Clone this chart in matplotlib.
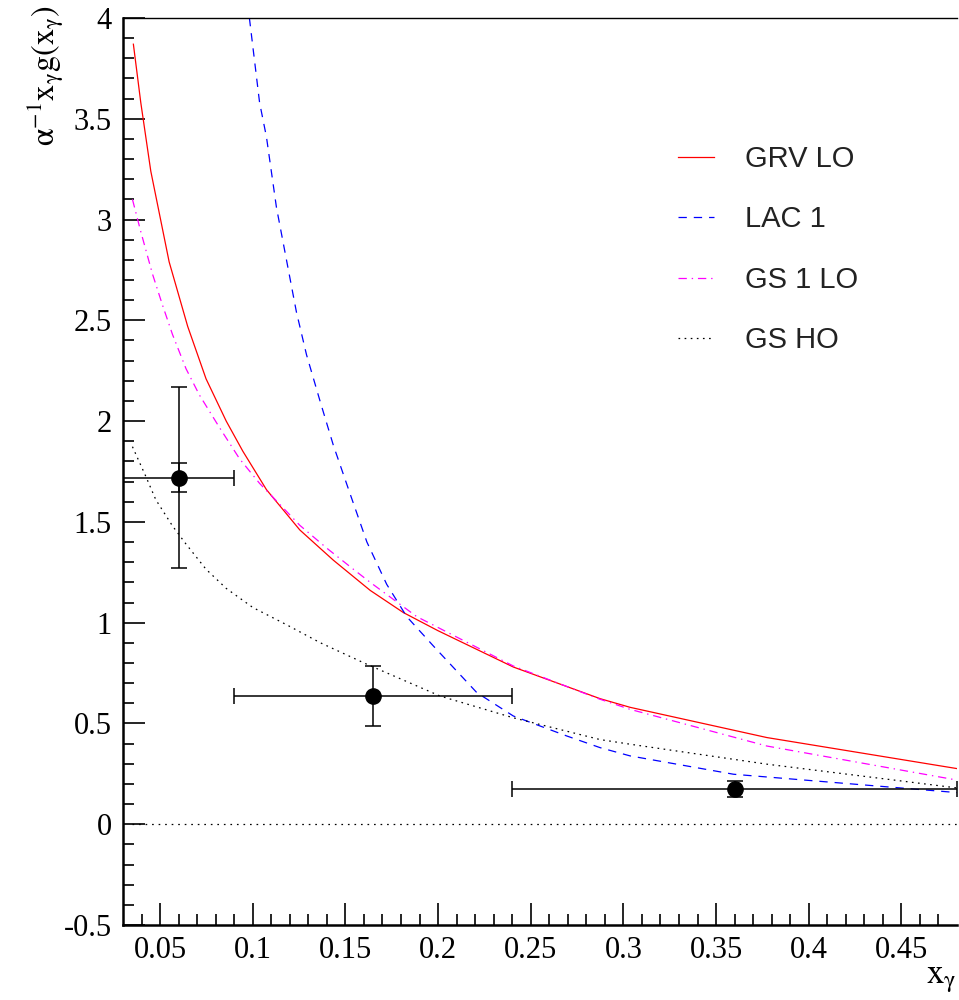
import matplotlib
matplotlib.use("Agg")
import matplotlib.pyplot as plt
import numpy as np

plt.rcParams['font.family'] = ['Liberation Serif', 'DejaVu Serif']
plt.rcParams['mathtext.fontset'] = 'stix'
plt.rcParams['lines.scale_dashes'] = False

# curves
grv_x = [0.0356, 0.0396, 0.045, 0.0549, 0.0649, 0.0748, 0.0857, 0.0947, 0.1074, 0.1254, 0.1435, 0.1634,
         0.1813, 0.2, 0.2406, 0.2874, 0.3036, 0.3774, 0.48]
grv_y = [3.87, 3.58, 3.24, 2.79, 2.47, 2.21, 2.00, 1.85, 1.66, 1.46, 1.31, 1.16,
         1.05, 0.96, 0.78, 0.623, 0.58, 0.43, 0.276]

lac_x = [0.0982, 0.1037, 0.1074, 0.1128, 0.1182, 0.1236, 0.129, 0.1363, 0.1435, 0.1525, 0.1616, 0.1723,
         0.1831, 0.1975, 0.2209, 0.2406, 0.2694, 0.2874, 0.3036, 0.3594, 0.48]
lac_y = [4.0, 3.58, 3.41, 3.06, 2.80, 2.54, 2.33, 2.10, 1.88, 1.64, 1.40, 1.19,
         1.03, 0.884, 0.653, 0.537, 0.438, 0.38, 0.339, 0.248, 0.157]

gs1_x = [0.0351, 0.0396, 0.0459, 0.0513, 0.0567, 0.064, 0.0712, 0.082, 0.0929, 0.1037, 0.1146, 0.1254,
         0.1399, 0.1543, 0.1634, 0.1885, 0.2406, 0.2874, 0.3036, 0.3774, 0.48]
gs1_y = [3.10, 2.94, 2.73, 2.576, 2.43, 2.26, 2.13, 1.969, 1.813, 1.691, 1.587, 1.483,
         1.37, 1.265, 1.20, 1.03, 0.785, 0.62, 0.57, 0.388, 0.219]

gsho_x = [0.0351, 0.0423, 0.0477, 0.0567, 0.064, 0.0748, 0.0857, 0.1001, 0.1182, 0.1363, 0.1615, 0.2011,
          0.2406, 0.2874, 0.3036, 0.3774, 0.48]
gsho_y = [1.873, 1.726, 1.61, 1.48, 1.39, 1.265, 1.17, 1.075, 0.99, 0.901, 0.794, 0.636,
          0.528, 0.42, 0.397, 0.298, 0.18]

# data points
pt_x = [0.06, 0.165, 0.36]
pt_y = [1.72, 0.635, 0.175]
pt_xlo = [0.03, 0.09, 0.24]
pt_xhi = [0.09, 0.24, 0.48]
pt_yerr_tot = [0.45, 0.15, 0.04]
stat_x = [0.06]
stat_y = [1.72]
stat_err = [0.073]

zero_x = [0.035, 0.48]
zero_y = [0, 0]

fig = plt.figure(figsize=(9.59, 10), dpi=100)
ax = fig.add_axes([123 / 959, 75 / 1000, 834 / 959, 907 / 1000])

ax.plot(grv_x, grv_y, color='#ff0000', lw=0.9, label='GRV LO')
ax.plot(lac_x, lac_y, color='#0000ff', lw=0.9, dashes=(6, 5), label='LAC 1')
ax.plot(gs1_x, gs1_y, color='#ff00ff', lw=0.9, dashes=(6, 3.5, 1, 3.5), label='GS 1 LO')
ax.plot(gsho_x, gsho_y, color='black', lw=0.9, dashes=(1.2, 3.2), label='GS HO')
ax.plot(zero_x, zero_y, color='black', lw=0.9, dashes=(1.2, 3.5))

xerr = [np.array(pt_x) - np.array(pt_xlo), np.array(pt_xhi) - np.array(pt_x)]
ax.errorbar(pt_x, pt_y, xerr=xerr, yerr=pt_yerr_tot, fmt='o', color='black',
            ms=11, elinewidth=1.1, capsize=5.8, capthick=1.1)
ax.errorbar(stat_x, stat_y, yerr=stat_err, fmt='none', ecolor='black',
            elinewidth=1.1, capsize=5.8, capthick=1.1)

ax.set_xlim(0.03, 0.48)
ax.set_ylim(-0.5, 4)
ax.set_xticks(np.arange(0.05, 0.46, 0.05))
ax.set_xticklabels(['0.05', '0.1', '0.15', '0.2', '0.25', '0.3', '0.35', '0.4', '0.45'])
ax.set_xticks(np.arange(0.04, 0.48, 0.01), minor=True)
ax.set_yticks(np.arange(-0.5, 4.01, 0.5))
ax.set_yticklabels(['-0.5', '0', '0.5', '1', '1.5', '2', '2.5', '3', '3.5', '4'])
ax.set_yticks(np.arange(-0.4, 4.0, 0.1), minor=True)
ax.tick_params(which='both', direction='in', top=False, right=False, labelsize=22, width=1.2)
ax.tick_params(which='major', length=16, pad=8)
ax.tick_params(which='minor', length=8)

ax.spines['right'].set_visible(False)
ax.spines['left'].set_linewidth(1.8)
ax.spines['bottom'].set_linewidth(1.8)
ax.spines['top'].set_linewidth(1.0)

leg = ax.legend(loc='upper left', bbox_to_anchor=(0.665, (925 - 145) / 907), frameon=False,
                prop={'family': 'Liberation Sans', 'size': 21}, handlelength=1.25,
                handletextpad=1.05, labelspacing=1.11, borderpad=0, borderaxespad=0)
for t in leg.get_texts():
    t.set_color('#222222')

fig.text(45 / 959, 1 - 5 / 1000, r'$\mathrm{\alpha^{-1}x_{\gamma}g(x_{\gamma})}$', rotation=90,
         ha='center', va='top', fontsize=23)
fig.text(957 / 959, 5 / 1000, r'$\mathrm{x_{\gamma}}$', ha='right', va='bottom', fontsize=25)

fig.savefig('out.png', dpi=100)
